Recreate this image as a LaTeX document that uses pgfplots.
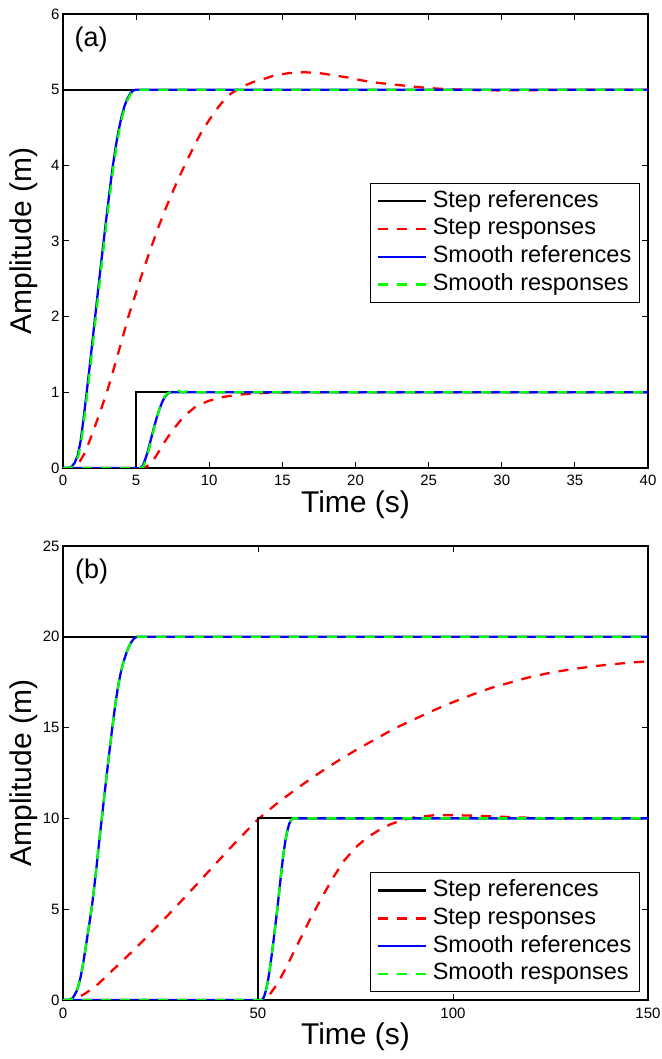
\documentclass[border=0pt]{standalone}
\usepackage{pgfplots}
\pgfplotsset{compat=1.18}
\usepackage{fontspec}
\setmainfont{Liberation Sans}
\definecolor{mred}{RGB}{255,0,0}
\definecolor{mblue}{RGB}{0,0,255}
\definecolor{mgreen}{RGB}{0,255,0}
\pgfplotsset{
  stepref/.style={black, line width=2.2pt},
  stepresp/.style={mred, line width=2.3pt, dash pattern=on 10pt off 9pt},
  smref/.style={mblue, line width=2.3pt},
  smresp/.style={mgreen, line width=2.3pt, dash pattern=on 10pt off 9pt},
  myaxis/.style={
    scale only axis, width=585pt, height=454pt, anchor=south west,
    axis line style={line width=1.2pt},
    every tick/.style={black, line width=1pt},
    major tick length=6pt, tick align=inside,
    /pgf/number format/assume math mode=true,
    tick label style={font=\fontsize{15}{18}\selectfont},
    xticklabel style={yshift=-4pt},
    label style={font=\fontsize{30}{36}\selectfont},
    xlabel style={at={(axis description cs:0.5,-0.099)}, anchor=base},
    ylabel style={at={(axis description cs:-0.067,0.5)}, anchor=center},
    xlabel={Time (s)}, ylabel={Amplitude (m)},
    legend cell align=left,
    legend image code/.code={\draw[#1] (0pt,0pt) -- (48pt,0pt); \path (52pt,0pt);},
    legend style={draw=black, line width=1pt, fill=white,
      font=\fontsize{23.5}{27}\selectfont, inner xsep=6pt, inner ysep=3.9pt,
      row sep=0pt,
      nodes={inner xsep=2pt, inner ysep=1.9pt, text height=18pt, text depth=6pt}},
  }
}
\begin{document}
\begin{tikzpicture}
\path[use as bounding box] (0pt,0pt) rectangle (661pt,1059pt);
% ---------------- panel (a)
\begin{axis}[myaxis, at={(63pt,591pt)},
  xmin=0, xmax=40, ymin=0, ymax=6,
  xtick={0,5,...,40}, ytick={0,1,...,6},
  legend style={at={(0.986,0.628)}, anchor=north east}]
\addplot[stepref] coordinates {(0,0) (0,5) (40,5)};
\addlegendentry{Step references}
\addplot[stepresp] coordinates {(0,0) (0.5,0) (1.0,0.04) (1.5,0.2) (2,0.45) (2.5,0.72) (3,1.0) (3.5,1.33) (4,1.67) (4.5,2.02) (5,2.32) (5.5,2.62) (6,2.9) (6.5,3.17) (7,3.42) (7.5,3.65) (8,3.87) (8.5,4.07) (9,4.27) (9.5,4.45) (10,4.6) (10.5,4.74) (11,4.86) (11.5,4.95) (12,5.01) (12.5,5.06) (13,5.1) (13.7,5.14) (14.5,5.19) (15.5,5.22) (16.5,5.23) (17.5,5.22) (18.5,5.19) (19.5,5.16) (20.5,5.12) (21.5,5.09) (22.5,5.07) (23.5,5.05) (24.5,5.03) (25.5,5.015) (26.5,5.005) (28,4.995) (30,4.99) (33,4.995) (36,5.0) (40,5.0)};
\addlegendentry{Step responses}
\addplot[smref] coordinates {(0,0) (0.4,0) (0.6,0.02) (0.8,0.07) (1.0,0.16) (1.2,0.35) (1.4,0.64) (1.6,0.97) (1.8,1.3) (2.0,1.65) (2.2,2.0) (2.4,2.35) (2.6,2.7) (2.8,3.03) (3.0,3.36) (3.2,3.68) (3.4,3.98) (3.6,4.24) (3.8,4.46) (4.0,4.64) (4.2,4.78) (4.4,4.88) (4.6,4.95) (4.8,4.99) (5.0,5.0) (40,5)};
\addlegendentry{Smooth references}
\addplot[smresp] coordinates {(0,0) (0.45,0) (0.65,0.02) (0.85,0.07) (1.05,0.16) (1.25,0.35) (1.45,0.64) (1.65,0.97) (1.85,1.3) (2.05,1.65) (2.25,2.0) (2.45,2.35) (2.65,2.7) (2.85,3.03) (3.05,3.36) (3.25,3.68) (3.45,3.98) (3.65,4.24) (3.85,4.46) (4.05,4.64) (4.25,4.78) (4.45,4.88) (4.65,4.95) (4.85,4.99) (5.05,5.0) (40,5)};
\addlegendentry{Smooth responses}
% second step
\addplot[stepref, forget plot] coordinates {(0,0) (5,0) (5,1) (40,1)};
\addplot[stepresp, forget plot] coordinates {(0,0) (5.5,0) (6,0.05) (6.5,0.2) (7,0.36) (7.5,0.5) (8,0.62) (8.5,0.72) (9,0.8) (9.5,0.85) (10,0.89) (11,0.94) (12,0.97) (13,0.985) (14,0.993) (15,0.998) (16,1) (40,1)};
\addplot[smref, forget plot] coordinates {(0,0) (5.3,0) (5.45,0.03) (5.6,0.1) (5.8,0.22) (6.0,0.37) (6.2,0.52) (6.4,0.66) (6.6,0.78) (6.8,0.88) (7.0,0.95) (7.2,0.99) (7.4,1.0) (40,1)};
\addplot[smresp, forget plot] coordinates {(0,0) (5.35,0) (5.5,0.02) (5.7,0.12) (5.9,0.26) (6.1,0.42) (6.3,0.58) (6.5,0.72) (6.7,0.84) (6.9,0.93) (7.1,0.98) (7.3,1.0) (7.5,1.03) (7.65,1.05) (7.8,1.04) (8.0,1.01) (8.2,1.0) (8.5,1.015) (8.75,1.025) (9.0,1.015) (9.3,1.0) (40,1)};
\node[font=\fontsize{27}{32}\selectfont] at (rel axis cs:0.048,0.943) {(a)};
\end{axis}
% ---------------- panel (b)
\begin{axis}[myaxis, at={(63pt,59pt)},
  xmin=0, xmax=150, ymin=0, ymax=25,
  xtick={0,50,100,150}, ytick={0,5,...,25},
  legend style={at={(0.986,0.017)}, anchor=south east}]
\addplot[stepref] coordinates {(0,0) (0,20) (150,20)};
\addlegendentry{Step references}
\addplot[stepresp] coordinates {(0,0) (2,0) (3,0.05) (4,0.15) (5,0.27) (6,0.4) (7,0.55) (8,0.7) (9,0.88) (10,1.08) (12.5,1.6) (15,2.1) (17.5,2.62) (20,3.15) (22.5,3.7) (25,4.25) (27.5,4.8) (30,5.37) (32.5,5.95) (35,6.53) (37.5,7.12) (40,7.7) (42.5,8.28) (45,8.85) (47.5,9.4) (50,9.95) (55,10.85) (60,11.65) (65,12.4) (70,13.1) (75,13.75) (80,14.35) (85,14.95) (90,15.45) (95,15.95) (100,16.4) (105,16.82) (110,17.2) (115,17.5) (120,17.8) (125,18.02) (130,18.2) (135,18.35) (140,18.47) (145,18.57) (150,18.65)};
\addlegendentry{Step responses}
\addplot[smref] coordinates {(0,0) (1.5,0) (2.5,0.12) (3,0.28) (3.5,0.5) (4,0.82) (4.5,1.25) (5,1.8) (5.5,2.45) (6,3.15) (6.5,3.85) (7,4.55) (7.5,5.3) (8,6.2) (8.5,7.15) (9,8.15) (9.5,9.15) (10,10.1) (10.5,11.05) (11,12.0) (11.5,12.95) (12,13.85) (12.5,14.75) (13,15.6) (13.5,16.4) (14,17.1) (14.5,17.7) (15,18.2) (15.5,18.6) (16,18.95) (16.5,19.25) (17,19.5) (17.5,19.7) (18,19.85) (18.5,19.95) (19,20) (150,20)};
\addlegendentry{Smooth references}
\addplot[smresp] coordinates {(0,0) (1.5,0) (2.5,0.12) (3,0.28) (3.5,0.5) (4,0.82) (4.5,1.25) (5,1.8) (5.5,2.45) (6,3.15) (6.5,3.85) (7,4.55) (7.5,5.3) (8,6.2) (8.5,7.15) (9,8.15) (9.5,9.15) (10,10.1) (10.5,11.05) (11,12.0) (11.5,12.95) (12,13.85) (12.5,14.75) (13,15.6) (13.5,16.4) (14,17.1) (14.5,17.7) (15,18.2) (15.5,18.6) (16,18.95) (16.5,19.25) (17,19.5) (17.5,19.7) (18,19.85) (18.5,19.95) (19,20) (150,20)};
\addlegendentry{Smooth responses}
\addplot[stepref, forget plot] coordinates {(0,0) (50,0) (50,10) (150,10)};
\addplot[stepresp, forget plot] coordinates {(0,0) (51,0) (52,0.1) (53,0.3) (55,0.9) (57,1.7) (60,3.0) (63,4.3) (66,5.5) (69,6.65) (72,7.65) (75,8.4) (78,8.95) (81,9.35) (84,9.68) (87,9.9) (90,10.05) (95,10.17) (100,10.18) (105,10.15) (110,10.11) (115,10.07) (120,10.03) (125,10.0) (150,10)};
\addplot[smref, forget plot] coordinates {(0,0) (51,0) (51.5,0.15) (52,0.5) (52.5,1.0) (53,1.65) (53.5,2.45) (54,3.3) (54.5,4.2) (55,5.1) (55.5,6.1) (56,7.1) (56.5,8.0) (57,8.75) (57.5,9.3) (58,9.7) (58.5,9.92) (59,10) (150,10)};
\addplot[smresp, forget plot] coordinates {(0,0) (51,0) (51.5,0.15) (52,0.5) (52.5,1.0) (53,1.65) (53.5,2.45) (54,3.3) (54.5,4.2) (55,5.1) (55.5,6.1) (56,7.1) (56.5,8.0) (57,8.75) (57.5,9.3) (58,9.7) (58.5,9.92) (59,10) (150,10)};
\node[font=\fontsize{27}{32}\selectfont] at (rel axis cs:0.049,0.944) {(b)};
\end{axis}
\end{tikzpicture}
\end{document}
